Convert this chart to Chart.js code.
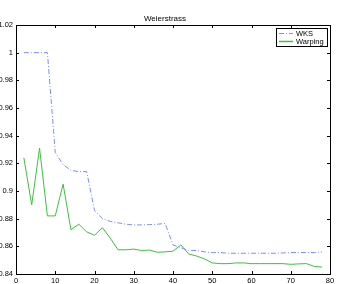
<!DOCTYPE html>
<html>
<head>
<meta charset="utf-8">
<script src="https://cdn.jsdelivr.net/npm/chart.js@4/dist/chart.umd.min.js"></script>
<style>
  html, body { margin:0; padding:0; background:#fff; }
  #wrap { width:338px; height:284px; }
</style>
</head>
<body>
<div id="wrap"><canvas id="myChart" width="338" height="284"></canvas></div>
<script>
// data
var xs = [2,4,6,8,10,12,14,16,18,20,22,24,26,28,30,32,34,36,38,40,42,44,46,48,50,52,54,56,58,60,62,64,66,68,70,72,74,76,78];
var wks = [1,1,1,1,0.928,0.919,0.915,0.914,0.914,0.886,0.880,0.878,0.877,0.876,0.8755,0.8755,0.8757,0.876,0.8765,0.861,0.859,0.857,0.857,0.856,0.8555,0.8555,0.855,0.855,0.855,0.855,0.855,0.855,0.855,0.8552,0.8555,0.8555,0.8555,0.8555,0.856];
var warping = [0.924,0.890,0.931,0.882,0.882,0.905,0.872,0.876,0.8705,0.868,0.8735,0.866,0.8575,0.8575,0.858,0.857,0.8573,0.8557,0.856,0.8565,0.861,0.8545,0.853,0.851,0.848,0.8475,0.8475,0.848,0.848,0.8475,0.8475,0.8475,0.8475,0.8475,0.847,0.8473,0.8475,0.8455,0.845];
var xTicks = [0,10,20,30,40,50,60,70,80];
var yTicks = [0.84,0.86,0.88,0.9,0.92,0.94,0.96,0.98,1,1.02];
var seriesNames = ['WKS','Warping'];

function pts(ys){
  return xs.map(function(x,i){ return {x:x, y:ys[i]}; });
}

var FONT = 'Liberation Sans, Arial, sans-serif';

// frame + inward ticks + legend box
var framePlugin = {
  id:'frame',
  afterDraw: function(chart){
    var c = chart.ctx, a = chart.chartArea;
    var sx = chart.scales.x, sy = chart.scales.y;
    c.save();
    c.strokeStyle = '#000';
    c.lineWidth = 1;
    c.strokeRect(Math.round(a.left)+0.5, Math.round(a.top)+0.5, Math.round(a.right-a.left), Math.round(a.bottom-a.top));
    c.beginPath();
    xTicks.forEach(function(v){
      var px = Math.round(sx.getPixelForValue(v))+0.5;
      c.moveTo(px, a.bottom); c.lineTo(px, a.bottom-3);
      c.moveTo(px, a.top); c.lineTo(px, a.top+3);
    });
    yTicks.forEach(function(v){
      var py = Math.round(sy.getPixelForValue(v))+0.5;
      c.moveTo(a.left, py); c.lineTo(a.left+3, py);
      c.moveTo(a.right, py); c.lineTo(a.right-3, py);
    });
    c.stroke();

    // legend
    var lx = 276, ly = 28, lw = 51, lh = 18;
    c.fillStyle = '#fff';
    c.fillRect(lx, ly, lw, lh);
    c.strokeStyle = '#000';
    c.strokeRect(lx+0.5, ly+0.5, lw, lh);
    var ds = chart.data.datasets;
    c.font = '7.5px ' + FONT;
    c.textBaseline = 'middle';
    for (var i=0;i<ds.length;i++){
      var yy = ly + 5 + i*8 + 0.5;
      c.strokeStyle = ds[i].borderColor;
      c.lineWidth = i===0 ? 1 : 1.5;
      c.setLineDash(ds[i].borderDash || []);
      c.beginPath(); c.moveTo(lx+3, yy); c.lineTo(lx+17, yy); c.stroke();
      c.setLineDash([]);
      c.fillStyle = '#000';
      c.fillText(ds[i].label, lx+20, yy);
    }
    c.restore();
  }
};

var myChart = document.getElementById('myChart').getContext('2d');

var weierChart = new Chart(myChart, {
  type:'line',
  data:{
    datasets:[{
      label: seriesNames[0],
      data: pts(wks),
      borderColor:'#7d8cff',
      borderWidth:1,
      borderDash:[5,2,1,2],
      pointRadius:0,
      fill:false,
      tension:0
    },{
      label: seriesNames[1],
      data: pts(warping),
      borderColor:'#3fbf3f',
      borderWidth:1,
      pointRadius:0,
      fill:false,
      tension:0
    }]
  },
  plugins:[framePlugin],
  options:{
    responsive:false,
    animation:false,
    layout:{ padding:{ top:0, right:8, left:0, bottom:0 } },
    plugins:{
      legend:{ display:false },
      tooltip:{ enabled:false },
      title:{
        display:true,
        text:'Weierstrass',
        color:'#000',
        font:{ family:FONT, size:8, weight:'normal' },
        padding:{ top:13.5, bottom:1.9 }
      }
    },
    scales:{
      x:{
        type:'linear',
        min:0, max:80,
        afterBuildTicks: function(s){ s.ticks = xTicks.map(function(v){ return {value:v}; }); },
        afterFit: function(s){ s.height = 10; },
        grid:{ display:false, drawTicks:false },
        border:{ display:false },
        ticks:{ padding:2, color:'#000', font:{ family:FONT, size:7.5 }, maxRotation:0, autoSkip:false }
      },
      y:{
        type:'linear',
        min:0.84, max:1.02,
        afterBuildTicks: function(s){ s.ticks = yTicks.map(function(v){ return {value:v}; }); },
        afterFit: function(s){ s.width = 16; },
        grid:{ display:false, drawTicks:false },
        border:{ display:false },
        ticks:{
          padding:3, color:'#000', font:{ family:FONT, size:7.5 }, autoSkip:false,
          callback: function(v){ return String(+v.toFixed(2)); }
        }
      }
    }
  }
});
</script>
</body>
</html>
